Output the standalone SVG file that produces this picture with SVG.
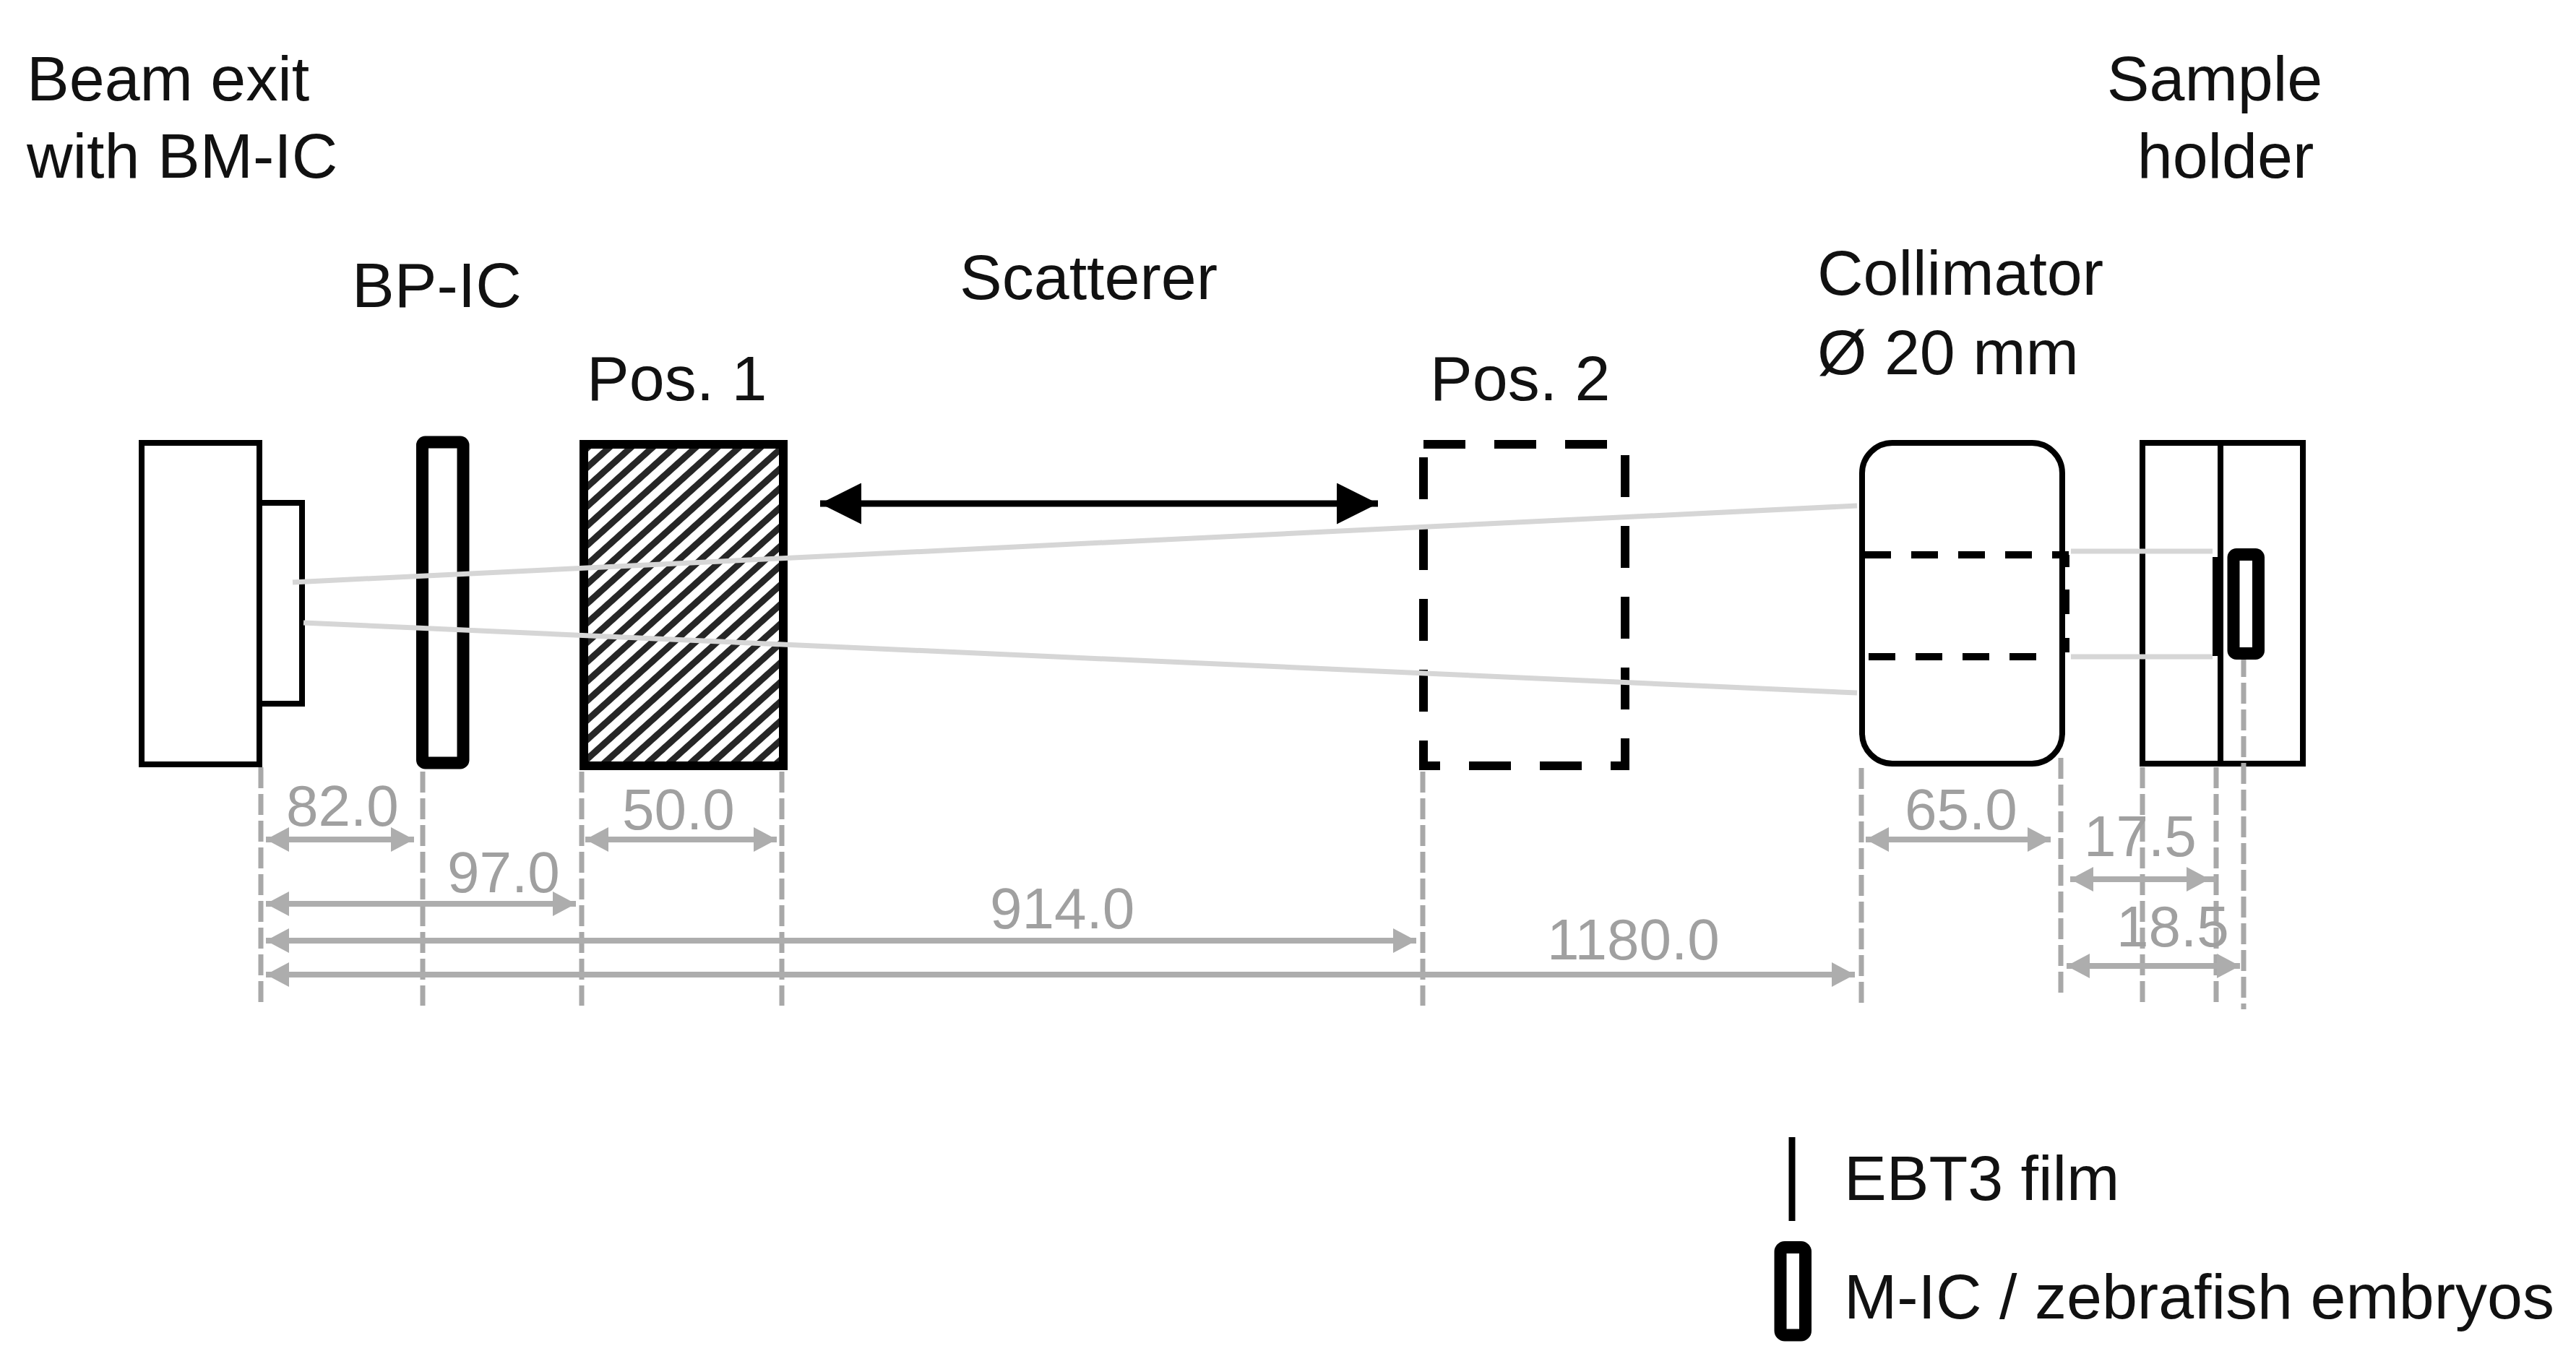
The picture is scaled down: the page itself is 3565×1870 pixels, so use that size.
<svg xmlns="http://www.w3.org/2000/svg" width="3565" height="1870" viewBox="0 0 3565 1870">
<style>
text{font-family:"Liberation Sans",Arial,sans-serif}
.lb{font-size:88px;fill:#111}
.dim{font-size:80px;fill:#a0a0a0}
.box{fill:#fff;stroke:#000;stroke-width:8}
.thick{fill:#fff;stroke:#000;stroke-width:17}
.beam{stroke:#d6d6d6;stroke-width:7;fill:none}
.ext{stroke:#a8a8a8;stroke-width:7;stroke-dasharray:29 8;fill:none}
.arr{stroke:#adadad;stroke-width:8;fill:none;marker-start:url(#ga);marker-end:url(#ga)}
.cut{stroke:#000;stroke-width:10;fill:none;stroke-dasharray:37 28}
</style>
<defs>
<marker id="ga" markerUnits="userSpaceOnUse" markerWidth="32" markerHeight="34" refX="32" refY="17" orient="auto-start-reverse"><path d="M0 0L32 17L0 34Z" fill="#adadad"/></marker>
<marker id="ka" markerUnits="userSpaceOnUse" markerWidth="57" markerHeight="57" refX="57" refY="28.5" orient="auto-start-reverse"><path d="M0 0L57 28.5L0 57Z" fill="#000"/></marker>
<pattern id="hatch" width="20" height="20" patternUnits="userSpaceOnUse" patternTransform="rotate(48)"><rect width="20" height="20" fill="#fff"/><rect width="9" height="20" fill="#262626"/></pattern>
</defs>
<rect width="3565" height="1870" fill="#fff"/>

<g id="beam-exit">
<rect class="box" x="359" y="696" width="59" height="278"/>
<rect class="box" x="196" y="613" width="163" height="445"/>
<text class="lb" x="37" y="139">Beam exit</text>
<text class="lb" x="37" y="246">with BM-IC</text>
</g>
<g id="bp-ic">
<rect class="thick" x="584.5" y="612" width="56.5" height="444" rx="4"/>
<text class="lb" x="487" y="425">BP-IC</text>
</g>
<g id="scatterer-pos1">
<rect x="808" y="615" width="276" height="445" fill="url(#hatch)" stroke="#000" stroke-width="12"/>
<text class="lb" x="812" y="554">Pos. 1</text>
</g>
<g id="scatterer-label">
<text class="lb" x="1328" y="414">Scatterer</text>
</g>
<g id="scatterer-pos2">
<rect x="1970" y="615" width="279" height="445" fill="none" stroke="#000" stroke-width="12" stroke-dasharray="58 40"/>
<text class="lb" x="1979" y="554">Pos. 2</text>
</g>
<g id="collimator">
<rect class="box" x="2577" y="613" width="277" height="444" rx="42"/>
<path class="cut" d="M2580 768H2863"/>
<path class="cut" d="M2586 909H2821"/>
<path d="M2859 768V785M2859 816V850M2859 883V903" stroke="#000" stroke-width="10" fill="none"/>
<text class="lb" x="2515" y="408">Collimator</text>
<text class="lb" x="2515" y="518">Ø 20 mm</text>
</g>
<g id="sample-holder">
<rect class="box" x="2965" y="613" width="222" height="444"/>
<path d="M3073 613V1057" stroke="#000" stroke-width="8"/>
<text class="lb" x="3065" y="139" text-anchor="middle">Sample</text>
<text class="lb" x="3080" y="246" text-anchor="middle">holder</text>
</g>

<g id="connectors">
<path class="beam" d="M405 806L2570 700"/>
<path class="beam" d="M420 862L2570 959"/>
<path class="beam" d="M2866 763H3062"/>
<path class="beam" d="M2866 909H3062"/>
<path class="ext" d="M361 1062V1392"/>
<path class="ext" d="M585 1068V1392"/>
<path class="ext" d="M805 1068V1392"/>
<path class="ext" d="M1082 1068V1392"/>
<path class="ext" d="M1969 1068V1392"/>
<path class="ext" d="M2576 1063V1391"/>
<path class="ext" d="M2852 1049V1377"/>
<path class="ext" d="M2965 1062V1391"/>
<path class="ext" d="M3067 1062V1391"/>
<path class="ext" d="M3105 908V1397"/>
<path class="arr" d="M368 1162H573"/>
<path class="arr" d="M810 1162H1075"/>
<path class="arr" d="M368 1251H797"/>
<path class="arr" d="M368 1302H1960"/>
<path class="arr" d="M368 1349H2567"/>
<path class="arr" d="M2582 1162H2838"/>
<path class="arr" d="M2865 1217H3058"/>
<path d="M3058 1217H3067" stroke="#adadad" stroke-width="8"/>
<path class="arr" d="M2860 1337H3100"/>
<path d="M1135 697H1907" stroke="#000" stroke-width="9" fill="none" marker-start="url(#ka)" marker-end="url(#ka)"/>
</g>

<g id="film-embryos">
<rect x="3062" y="771" width="15" height="137" fill="#000"/>
<rect x="3091" y="767.5" width="34.5" height="137" rx="4" fill="#fff" stroke="#000" stroke-width="17"/>
</g>

<g id="dimensions">
<text class="dim" x="396" y="1143">82.0</text>
<text class="dim" x="861" y="1148">50.0</text>
<text class="dim" x="619" y="1235">97.0</text>
<text class="dim" x="1370" y="1285">914.0</text>
<text class="dim" x="2141" y="1328">1180.0</text>
<text class="dim" x="2636" y="1148">65.0</text>
<text class="dim" x="2884" y="1185">17.5</text>
<text class="dim" x="2929" y="1310">18.5</text>
</g>

<g id="legend-film">
<path d="M2480 1574V1690" stroke="#000" stroke-width="9"/>
<text class="lb" x="2552" y="1661">EBT3 film</text>
</g>
<g id="legend-embryos">
<rect x="2464" y="1726.5" width="34.5" height="121.5" rx="6" fill="#fff" stroke="#000" stroke-width="17"/>
<text class="lb" x="2552" y="1825">M-IC / zebrafish embryos</text>
</g>
</svg>
